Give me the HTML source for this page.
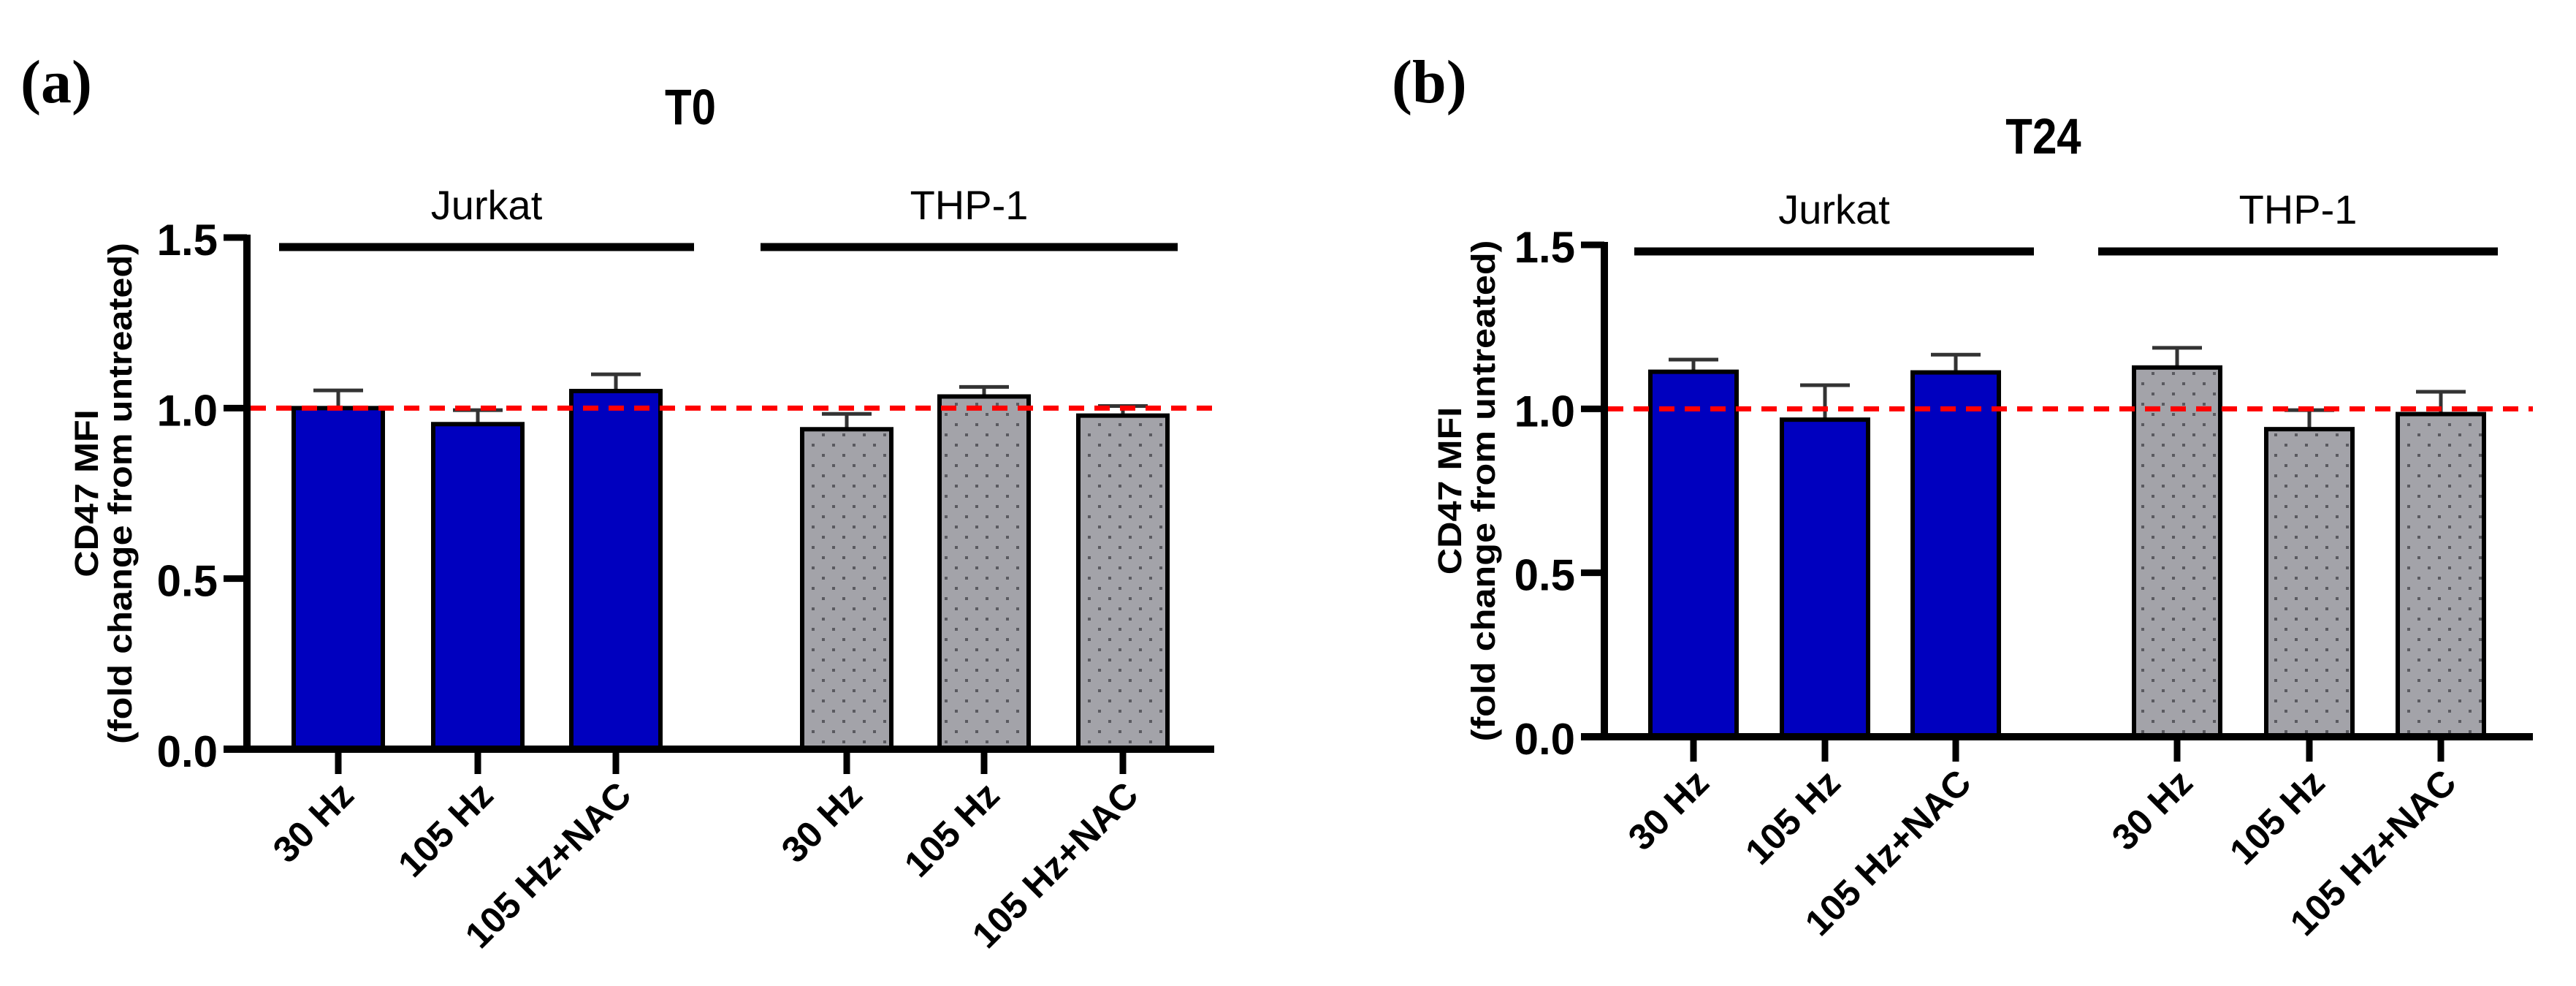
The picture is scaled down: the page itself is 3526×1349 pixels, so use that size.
<!DOCTYPE html>
<html><head><meta charset="utf-8"><style>
html,body{margin:0;padding:0;background:#fff;}
svg{display:block;}
</style></head><body>
<svg id="fig" width="3526" height="1349" viewBox="0 0 3526 1349" xmlns="http://www.w3.org/2000/svg" font-family="Liberation Sans, Arial, sans-serif">
<defs>
<pattern id="dots" width="28" height="28" patternUnits="userSpaceOnUse">
<rect width="28" height="28" fill="#a3a3a9"/>
<rect x="5" y="5" width="4" height="4" fill="#5a5a60"/>
<rect x="19" y="19" width="4" height="4" fill="#5a5a60"/>
</pattern>
</defs>
</svg>
<script>
var categories = ["30 Hz","105 Hz","105 Hz+NAC","30 Hz","105 Hz","105 Hz+NAC"];
var groups = ["Jurkat","THP-1"];
var yTicks = [0.0,0.5,1.0,1.5];
var yTickLabels = ["0.0","0.5","1.0","1.5"];
var t0Values = [1.00,0.953,1.050,0.938,1.034,0.978];
var t0Errors = [0.052,0.041,0.049,0.045,0.028,0.028];
var t24Values = [1.113,0.967,1.111,1.126,0.938,0.984];
var t24Errors = [0.037,0.105,0.054,0.060,0.058,0.068];
var refValue = 1.0;

var NS="http://www.w3.org/2000/svg";
var svg=document.getElementById('fig');
function mk(tag,attrs,parent){var e=document.createElementNS(NS,tag);for(var k in attrs)e.setAttribute(k,attrs[k]);(parent||svg).appendChild(e);return e;}

function panel(cfg){
  var g=mk('g',{});
  
  
  function y(v){return cfg.y0-(v/1.5)*(cfg.y0-cfg.y15);}
  function x(i){return cfg.ticks[i];}
  var L=mk('text',{x:cfg.letterX,y:140,'font-size':84,'font-weight':'bold','font-family':'Liberation Serif, serif'},g);L.textContent=cfg.letter;
  
  
  var T=mk('text',{x:cfg.titleX,y:cfg.titleY,'font-size':60,'font-weight':'bold','text-anchor':'middle',transform:'translate(0,'+(-cfg.titleY*0.15)+') scale(1,1.15)'},g);T.textContent=cfg.title;
  
  
  var yt=mk('text',{transform:'translate('+cfg.ytX+','+((cfg.y0+cfg.y15)/2)+') rotate(-90) scale(1.12,1)','font-size':45,'font-weight':'bold','text-anchor':'middle'},g);
  
  
  var s1=mk('tspan',{x:0,y:0},yt);s1.textContent='CD47 MFI';
  var s2=mk('tspan',{x:0,y:46},yt);s2.textContent='(fold change from untreated)';
  for(var i=0;i<categories.length;i++){
    var v=cfg.values[i],e=cfg.errors[i];
    var cx=x(i);
    var eb=mk('g',{},g);
    
    
    mk('line',{x1:cx,x2:cx,y1:y(v),y2:y(v+e),stroke:'#333','stroke-width':5},eb);
    mk('line',{x1:cx-cfg.cap,x2:cx+cfg.cap,y1:y(v+e),y2:y(v+e),stroke:'#333','stroke-width':5},eb);
    var r=mk('rect',{x:cx-cfg.bw/2,y:y(v),width:cfg.bw,height:y(0)-y(v),fill:i<3?'#0000bf':'url(#dots)',stroke:'#000','stroke-width':6},g);
    
    
    var tk=mk('line',{x1:cx,x2:cx,y1:y(0),y2:y(0)+34,stroke:'#000','stroke-width':9},g);
    
    
    var lb=mk('text',{transform:'translate('+(cx+24)+','+(y(0)+66)+') rotate(-45)','font-size':50,'font-weight':'bold','text-anchor':'end'},g);
    lb.textContent=categories[i];
    
    
  }
  var rl=mk('line',{x1:cfg.ax+5,x2:cfg.xEnd,y1:y(refValue),y2:y(refValue),stroke:'#ff0000','stroke-width':7,'stroke-dasharray':'21 14'},g);
  
  
  var ya=mk('line',{x1:cfg.ax,x2:cfg.ax,y1:y(1.5)-4,y2:y(0)+5,stroke:'#000','stroke-width':10},g);
  
  
  var xa=mk('line',{x1:cfg.ax-32,x2:cfg.xEnd,y1:y(0),y2:y(0),stroke:'#000','stroke-width':10},g);
  
  
  for(var j=0;j<yTicks.length;j++){
    var yy=y(yTicks[j]);
    var t=mk('line',{x1:cfg.ax-32,x2:cfg.ax,y1:yy,y2:yy,stroke:'#000','stroke-width':9},g);
    
    
    var tl=mk('text',{x:cfg.ax-40,y:yy+24,'font-size':60,'font-weight':'bold','text-anchor':'end'},g);
    tl.textContent=yTickLabels[j];
    
    
  }
  for(var k=0;k<2;k++){
    var gl=mk('line',{x1:cfg.gl[k][0],x2:cfg.gl[k][1],y1:cfg.gy,y2:cfg.gy,stroke:'#000','stroke-width':11},g);
    
    
    var gt=mk('text',{x:(cfg.gl[k][0]+cfg.gl[k][1])/2,y:cfg.gy-38,'font-size':56,'text-anchor':'middle'},g);
    gt.textContent=groups[k];
    
    
  }
}
panel({name:'panel-a-t0',letter:'(a)',letterX:28,title:'T0',titleX:945,titleY:170,ytX:134,
  y0:1025,y15:325,ax:338,xEnd:1662,ticks:[463,654,843,1159,1347,1537],bw:122,cap:34,
  values:t0Values,errors:t0Errors,gl:[[382,950],[1041,1612]],gy:338});
panel({name:'panel-b-t24',letter:'(b)',letterX:1905,title:'T24',titleX:2797,titleY:210,ytX:2000,
  y0:1008,y15:335,ax:2196,xEnd:3467,ticks:[2318,2498,2677,2980,3161,3341],bw:118,cap:34,
  values:t24Values,errors:t24Errors,gl:[[2237,2784],[2872,3419]],gy:344});
</script>
</body></html>
